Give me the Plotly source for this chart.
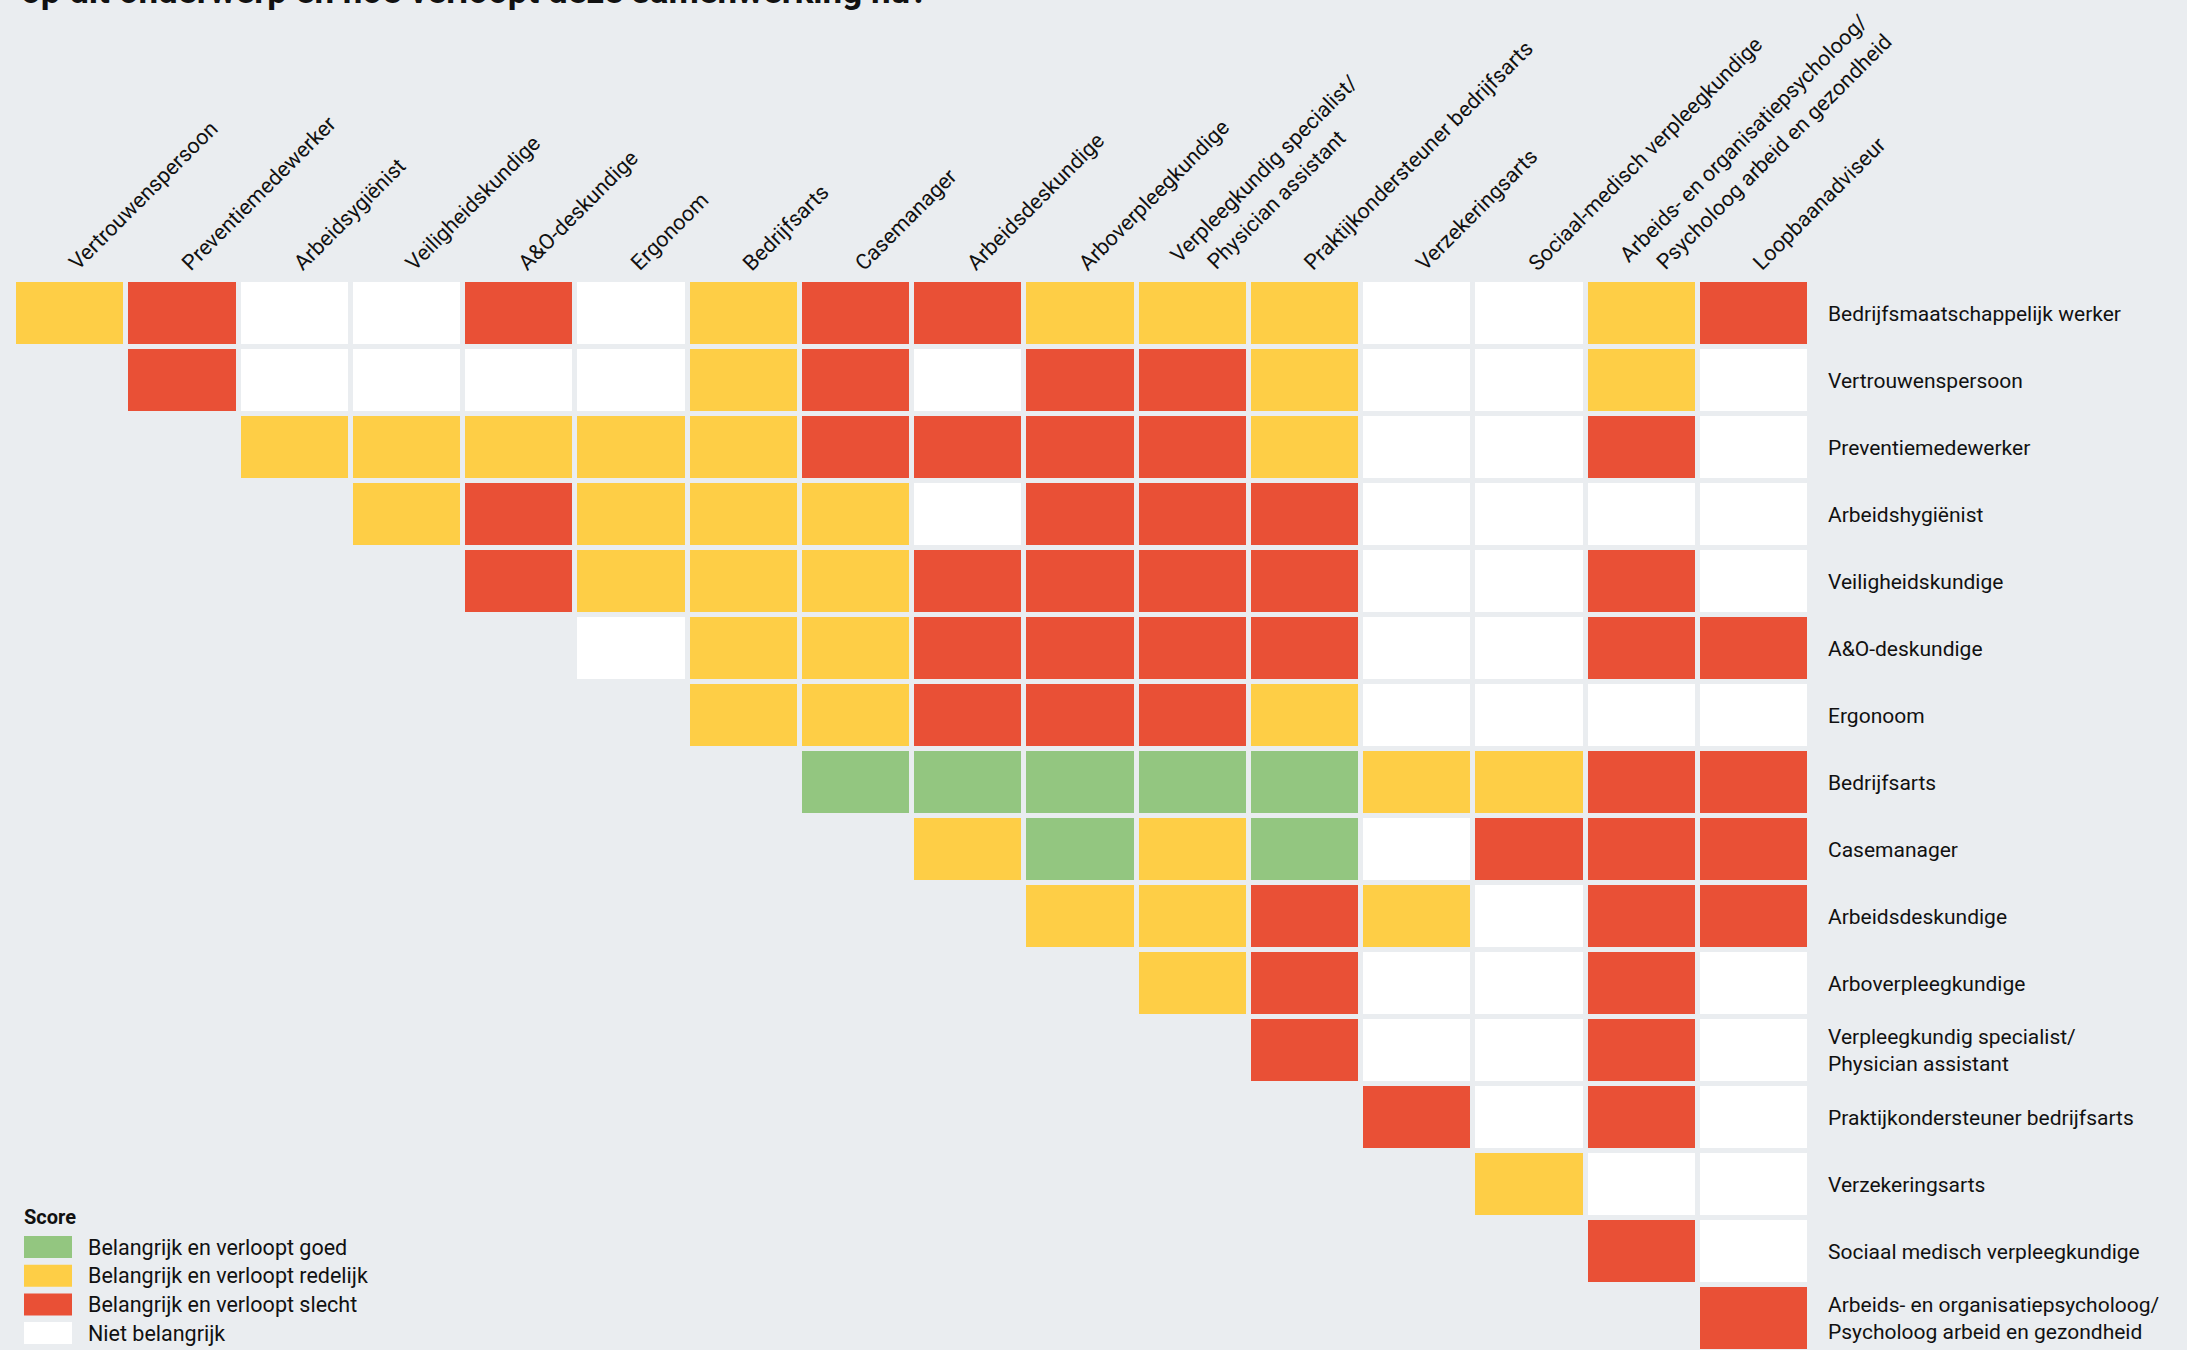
import plotly.graph_objects as go

# ---------------- data ----------------
col_labels = [
    "Vertrouwenspersoon", "Preventiemedewerker", "Arbeidsygiënist", "Veiligheidskundige",
    "A&O-deskundige", "Ergonoom", "Bedrijfsarts", "Casemanager", "Arbeidsdeskundige",
    "Arboverpleegkundige", "Verpleegkundig specialist/<br>Physician assistant",
    "Praktijkondersteuner bedrijfsarts", "Verzekeringsarts", "Sociaal-medisch verpleegkundige",
    "Arbeids- en organisatiepsycholoog/<br>Psycholoog arbeid en gezondheid", "Loopbaanadviseur",
]
row_labels = [
    "Bedrijfsmaatschappelijk werker", "Vertrouwenspersoon", "Preventiemedewerker",
    "Arbeidshygiënist", "Veiligheidskundige", "A&O-deskundige", "Ergonoom", "Bedrijfsarts",
    "Casemanager", "Arbeidsdeskundige", "Arboverpleegkundige",
    "Verpleegkundig specialist/<br>Physician assistant", "Praktijkondersteuner bedrijfsarts",
    "Verzekeringsarts", "Sociaal medisch verpleegkundige",
    "Arbeids- en organisatiepsycholoog/<br>Psycholoog arbeid en gezondheid",
]
score_codes = ["G", "Y", "R", "W"]
score_names = [
    "Belangrijk en verloopt goed", "Belangrijk en verloopt redelijk",
    "Belangrijk en verloopt slecht", "Niet belangrijk",
]
score_colors = ["#93C680", "#FECE46", "#E95036", "#FFFFFF"]

# each row lists the scores for the columns from its own position to the last column
scores = [
    ["Y", "R", "W", "W", "R", "W", "Y", "R", "R", "Y", "Y", "Y", "W", "W", "Y", "R"],
    ["R", "W", "W", "W", "W", "Y", "R", "W", "R", "R", "Y", "W", "W", "Y", "W"],
    ["Y", "Y", "Y", "Y", "Y", "R", "R", "R", "R", "Y", "W", "W", "R", "W"],
    ["Y", "R", "Y", "Y", "Y", "W", "R", "R", "R", "W", "W", "W", "W"],
    ["R", "Y", "Y", "Y", "R", "R", "R", "R", "W", "W", "R", "W"],
    ["W", "Y", "Y", "R", "R", "R", "R", "W", "W", "R", "R"],
    ["Y", "Y", "R", "R", "R", "Y", "W", "W", "W", "W"],
    ["G", "G", "G", "G", "G", "Y", "Y", "R", "R"],
    ["Y", "G", "Y", "G", "W", "R", "R", "R"],
    ["Y", "Y", "R", "Y", "W", "R", "R"],
    ["Y", "R", "W", "W", "R", "W"],
    ["R", "W", "W", "R", "W"],
    ["R", "W", "R", "W"],
    ["Y", "W", "W"],
    ["R", "W"],
    ["R"],
]
title_text = "op dit onderwerp en hoe verloopt deze samenwerking nu?"
legend_title = "Score"

# ---------------- build matrix ----------------
ncol = len(col_labels)
nrow = len(row_labels)
code_index = {c: i for i, c in enumerate(score_codes)}
z = [[None] * ncol for _ in range(nrow)]
for r, row in enumerate(scores):
    start = ncol - len(row)
    for k, c in enumerate(row):
        z[r][start + k] = code_index[c]

nc = len(score_colors)
colorscale = []
for i, col in enumerate(score_colors):
    colorscale.append([i / nc, col])
    colorscale.append([(i + 1) / nc, col])

# ---------------- layout geometry ----------------
W, H = 2187, 1350
ML, MR, MT, MB = 14, 377, 280, 0
PW = W - ML - MR
PH = H - MT - MB
ROW_PITCH = 67.0
BG = "#EAEDF0"
FONT = "Roboto, 'Open Sans', sans-serif"
TXT = "#111111"


def px_x(px):
    return (px - ML) / PW


def px_y(py):
    return (H - MB - py) / PH


fig = go.Figure()
fig.add_trace(go.Heatmap(
    z=z,
    x=list(range(ncol)),
    y=list(range(nrow)),
    colorscale=colorscale,
    zmin=-0.5, zmax=nc - 0.5,
    showscale=False,
    xgap=5, ygap=5,
    hoverinfo="skip",
))

annotations = []

# column labels (rotated)
for c, lab in enumerate(col_labels):
    lines = lab.split("<br>")
    if len(lines) == 1:
        annotations.append(dict(
            x=c, xref="x", y=1, yref="paper", text=lab, showarrow=False,
            textangle=-45, xanchor="left", yanchor="bottom",
            xshift=-9, yshift=2,
            font=dict(family=FONT, size=21.5, color=TXT),
        ))
    else:
        for k, ln in enumerate(lines):
            annotations.append(dict(
                x=c, xref="x", y=1, yref="paper", text=ln, showarrow=False,
                textangle=-45, xanchor="left", yanchor="bottom",
                xshift=-30 + 37 * k, yshift=10 - 7 * k,
                font=dict(family=FONT, size=21.5, color=TXT),
            ))

# row labels
for r, lab in enumerate(row_labels):
    annotations.append(dict(
        x=1, xref="paper", y=r, yref="y", text=lab, showarrow=False,
        xanchor="left", yanchor="middle", align="left", xshift=16,
        font=dict(family=FONT, size=21, color=TXT),
    ))

# title (partially cut at top of the image)
annotations.append(dict(
    x=0, xref="paper", y=px_y(14), yref="paper", text="<b>" + title_text + "</b>",
    showarrow=False, xanchor="left", yanchor="bottom", xshift=5,
    font=dict(family=FONT, size=35, color=TXT),
))

# legend
annotations.append(dict(
    x=px_x(22), xref="paper", y=px_y(1217), yref="paper", text="<b>" + legend_title + "</b>",
    showarrow=False, xanchor="left", yanchor="middle",
    font=dict(family=FONT, size=20, color=TXT),
))
shapes = []
box_top0, box_h, box_pitch = 1236, 22, 28.7
for i, (name, col) in enumerate(zip(score_names, score_colors)):
    y0 = box_top0 + i * box_pitch
    shapes.append(dict(
        type="rect", xref="paper", yref="paper",
        x0=px_x(24), x1=px_x(72), y0=px_y(y0 + box_h), y1=px_y(y0),
        fillcolor=col, line=dict(width=0), layer="above",
    ))
    annotations.append(dict(
        x=px_x(86), xref="paper", y=px_y(y0 + box_h / 2), yref="paper", text=name,
        showarrow=False, xanchor="left", yanchor="middle",
        font=dict(family=FONT, size=21.5, color=TXT),
    ))

fig.update_layout(
    width=W, height=H,
    margin=dict(l=ML, r=MR, t=MT, b=MB, autoexpand=False),
    paper_bgcolor=BG, plot_bgcolor=BG,
    xaxis=dict(range=[-0.5, ncol - 0.5], showticklabels=False, showgrid=False,
               zeroline=False, showline=False, ticks=""),
    yaxis=dict(range=[-0.5 + PH / ROW_PITCH, -0.5], showticklabels=False, showgrid=False,
               zeroline=False, showline=False, ticks=""),
    annotations=annotations,
    shapes=shapes,
    showlegend=False,
    font=dict(family=FONT, color=TXT),
)

fig.write_html(
    "out.html",
    config={"displayModeBar": False},
    post_script="document.body.style.margin='0px';document.body.style.padding='0px';"
                "document.body.style.background='" + BG + "';",
)
